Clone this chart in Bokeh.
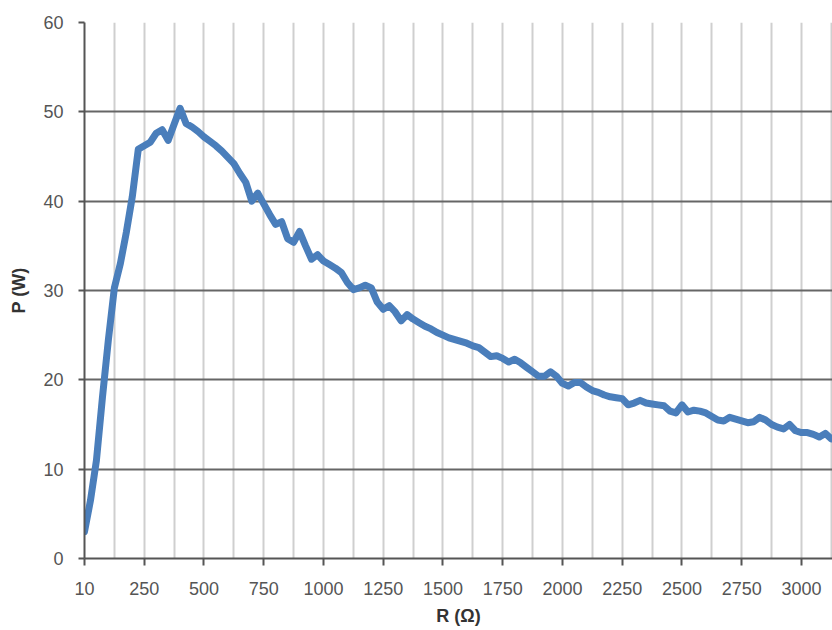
from bokeh.plotting import figure
from bokeh.models import Range1d, FixedTicker, ColumnDataSource
from bokeh.embed import file_html
from bokeh.resources import INLINE

# Categories (resistance, ohm) – Excel-style category axis
R_OHM = [10] + list(range(25, 3126, 25))

# Power (W), one value per category
P_W = [
    3.0, 6.5, 11.0, 18.0, 24.5, 30.3, 33.0, 36.5, 40.5, 45.8,
    46.2, 46.6, 47.6, 48.0, 46.8, 48.6, 50.4, 48.7, 48.3, 47.8,
    47.2, 46.7, 46.2, 45.6, 44.9, 44.2, 43.1, 42.1, 40.0, 40.9,
    39.7, 38.5, 37.4, 37.7, 35.8, 35.4, 36.6, 35.0, 33.5, 34.0,
    33.3, 32.9, 32.5, 32.0, 30.9, 30.1, 30.3, 30.6, 30.3, 28.7,
    27.9, 28.3, 27.6, 26.6, 27.3, 26.8, 26.4, 26.0, 25.7, 25.3,
    25.0, 24.7, 24.5, 24.3, 24.1, 23.8, 23.6, 23.1, 22.6, 22.7,
    22.4, 22.0, 22.3, 21.9, 21.4, 20.9, 20.4, 20.4, 20.9, 20.4,
    19.6, 19.3, 19.7, 19.7, 19.2, 18.8, 18.6, 18.3, 18.1, 18.0,
    17.9, 17.2, 17.4, 17.7, 17.4, 17.3, 17.2, 17.1, 16.5, 16.3,
    17.2, 16.4, 16.6, 16.5, 16.3, 15.9, 15.5, 15.4, 15.8, 15.6,
    15.4, 15.2, 15.3, 15.8, 15.5, 15.0, 14.7, 14.5, 15.0, 14.3,
    14.1, 14.1, 13.9, 13.6, 14.0, 13.4,
]

Y_TICKS = [0, 10, 20, 30, 40, 50, 60]
LABEL_EVERY = 10
GRID_EVERY = 5

idx = list(range(len(R_OHM)))
src = ColumnDataSource(dict(i=idx, r=R_OHM, p=P_W))

p = figure(width=832, height=630, output_backend="svg", toolbar_location=None,
           x_range=Range1d(0, 125.2), y_range=Range1d(0, 60),
           min_border_left=84, min_border_right=0, min_border_top=22,
           min_border_bottom=72, background_fill_color="white",
           border_fill_color="white", outline_line_color=None)

p.line("i", "p", source=src, line_color="#4A7EBB", line_width=7,
       line_join="round", line_cap="round")

major_x = [i for i in idx if i % LABEL_EVERY == 0]
minor_x = [i for i in idx if i % GRID_EVERY == 0 and i % LABEL_EVERY != 0]
p.xaxis.ticker = FixedTicker(ticks=major_x, minor_ticks=minor_x)
p.xaxis.major_label_overrides = {i: str(R_OHM[i]) for i in major_x}
p.yaxis.ticker = FixedTicker(ticks=Y_TICKS, minor_ticks=[])

for ax in (p.xaxis, p.yaxis):
    ax.axis_line_color = "#555555"
    ax.axis_line_width = 2
    ax.major_tick_line_color = "#555555"
    ax.major_tick_line_width = 2
    ax.major_tick_in = 0
    ax.minor_tick_in = 0
    ax.minor_tick_out = 0
    ax.major_label_text_font = "Liberation Sans"
    ax.major_label_text_font_size = "18px"
    ax.major_label_text_color = "#555555"
    ax.axis_label_text_font = "Liberation Sans"
    ax.axis_label_text_font_size = "18px"
    ax.axis_label_text_font_style = "bold"
    ax.axis_label_text_color = "#333333"

p.xaxis.major_tick_out = 7
p.xaxis.major_label_standoff = 16
p.xaxis.axis_label = "R (Ω)"
p.xaxis.axis_label_standoff = 8

p.yaxis.major_tick_out = 6
p.yaxis.major_label_standoff = 15
p.yaxis.axis_label = "P (W)"
p.yaxis.axis_label_standoff = 11

p.xgrid.grid_line_color = "#cfcfcf"
p.xgrid.grid_line_width = 2
p.xgrid.minor_grid_line_color = "#cfcfcf"
p.xgrid.minor_grid_line_width = 2
p.ygrid.grid_line_color = "#666666"
p.ygrid.grid_line_width = 2

open("out.html", "w").write(file_html(p, INLINE))
